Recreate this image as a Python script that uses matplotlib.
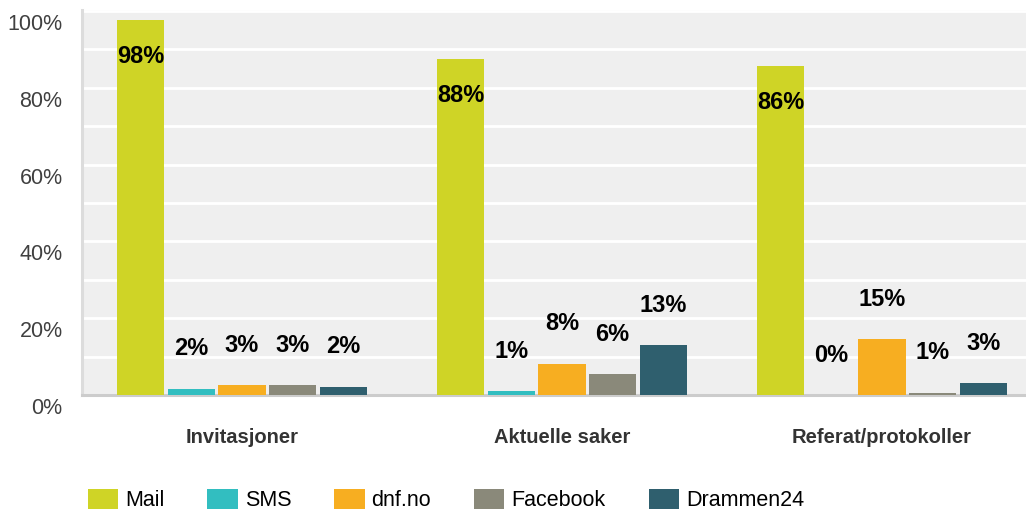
import numpy as np
import matplotlib.pyplot as plt
from matplotlib.patches import Patch
from matplotlib.transforms import ScaledTranslation

plt.rcParams['font.family'] = ['Liberation Sans', 'DejaVu Sans']

# Data lest av fra figuren
kategorier = ['Invitasjoner', 'Aktuelle saker', 'Referat/protokoller']
serier = ['Mail', 'SMS', 'dnf.no', 'Facebook', 'Drammen24']
farger = ['#cfd426', '#32bec0', '#f7ae21', '#8a897a', '#2f5f6e']

mail = [97.7, 87.5, 85.7]
sms = [1.6, 1.0, 0.0]
dnf = [2.6, 8.1, 14.5]
facebook = [2.6, 5.4, 0.6]
drammen = [2.1, 13.0, 3.1]

mail_tekst = ['98%', '88%', '86%']
sms_tekst = ['2%', '1%', '0%']
dnf_tekst = ['3%', '8%', '15%']
facebook_tekst = ['3%', '6%', '1%']
drammen_tekst = ['2%', '13%', '3%']

verdier = [mail, sms, dnf, facebook, drammen]
tekster = [mail_tekst, sms_tekst, dnf_tekst, facebook_tekst, drammen_tekst]

fig = plt.figure(figsize=(10.26, 5.12), dpi=100)
ax = fig.add_axes([82 / 1026, (512 - 395) / 512, 960 / 1026, 385 / 512])
ax.set_facecolor('#efefef')

x = np.arange(len(kategorier))
bredde = 0.147
steg = 0.158

for j, (navn, v, t, c) in enumerate(zip(serier, verdier, tekster, farger)):
    pos = x + (j - 2) * steg
    ax.bar(pos, v, width=bredde, color=c, zorder=3)
    for xi, vi, ti in zip(pos, v, t):
        if j == 0:
            # Mail: etikett inne i stolpen
            ax.annotate(ti, (xi, vi), xytext=(0, -37), textcoords='offset pixels',
                        ha='center', va='center', fontsize=17, fontweight='bold', zorder=4)
        else:
            ax.annotate(ti, (xi, vi), xytext=(0, 40), textcoords='offset pixels',
                        ha='center', va='center', fontsize=17, fontweight='bold', zorder=4)

ax.set_xlim(-0.5, 2.5)
ax.set_ylim(0, 100.26)
ax.set_yticks(np.arange(0, 101, 20))
ax.set_yticks(np.arange(10, 100, 20), minor=True)
ax.set_yticklabels([f'{v}%' for v in range(0, 101, 20)], fontsize=15.5, color='#404040')
ax.yaxis.grid(True, which='both', color='white', linewidth=2, zorder=1)
ax.set_axisbelow(True)
ax.tick_params(axis='y', which='both', length=0, pad=14)

forskyv = ScaledTranslation(0, -11 / 100, fig.dpi_scale_trans)
for lab in ax.get_yticklabels():
    lab.set_transform(lab.get_transform() + forskyv)

ax.set_xticks(x)
ax.set_xticklabels(kategorier, fontsize=14.5, fontweight='bold', color='#333333')
ax.tick_params(axis='x', length=0, pad=24)

for s in ['top', 'right']:
    ax.spines[s].set_visible(False)
ax.spines['left'].set_color('#dcdcdc')
ax.spines['left'].set_linewidth(2.2)
ax.spines['bottom'].set_color('#cccccc')
ax.spines['bottom'].set_linewidth(2.2)

handles = [Patch(facecolor=c, edgecolor='none') for c in farger]
fig.legend(handles, serier, loc='center left', bbox_to_anchor=(77 / 1026, 1 - 500 / 512),
           ncol=5, frameon=False, fontsize=15.5, borderpad=0, handlelength=1.4,
           handleheight=1.1, handletextpad=0.33, columnspacing=2.0)

fig.savefig('out.png')
